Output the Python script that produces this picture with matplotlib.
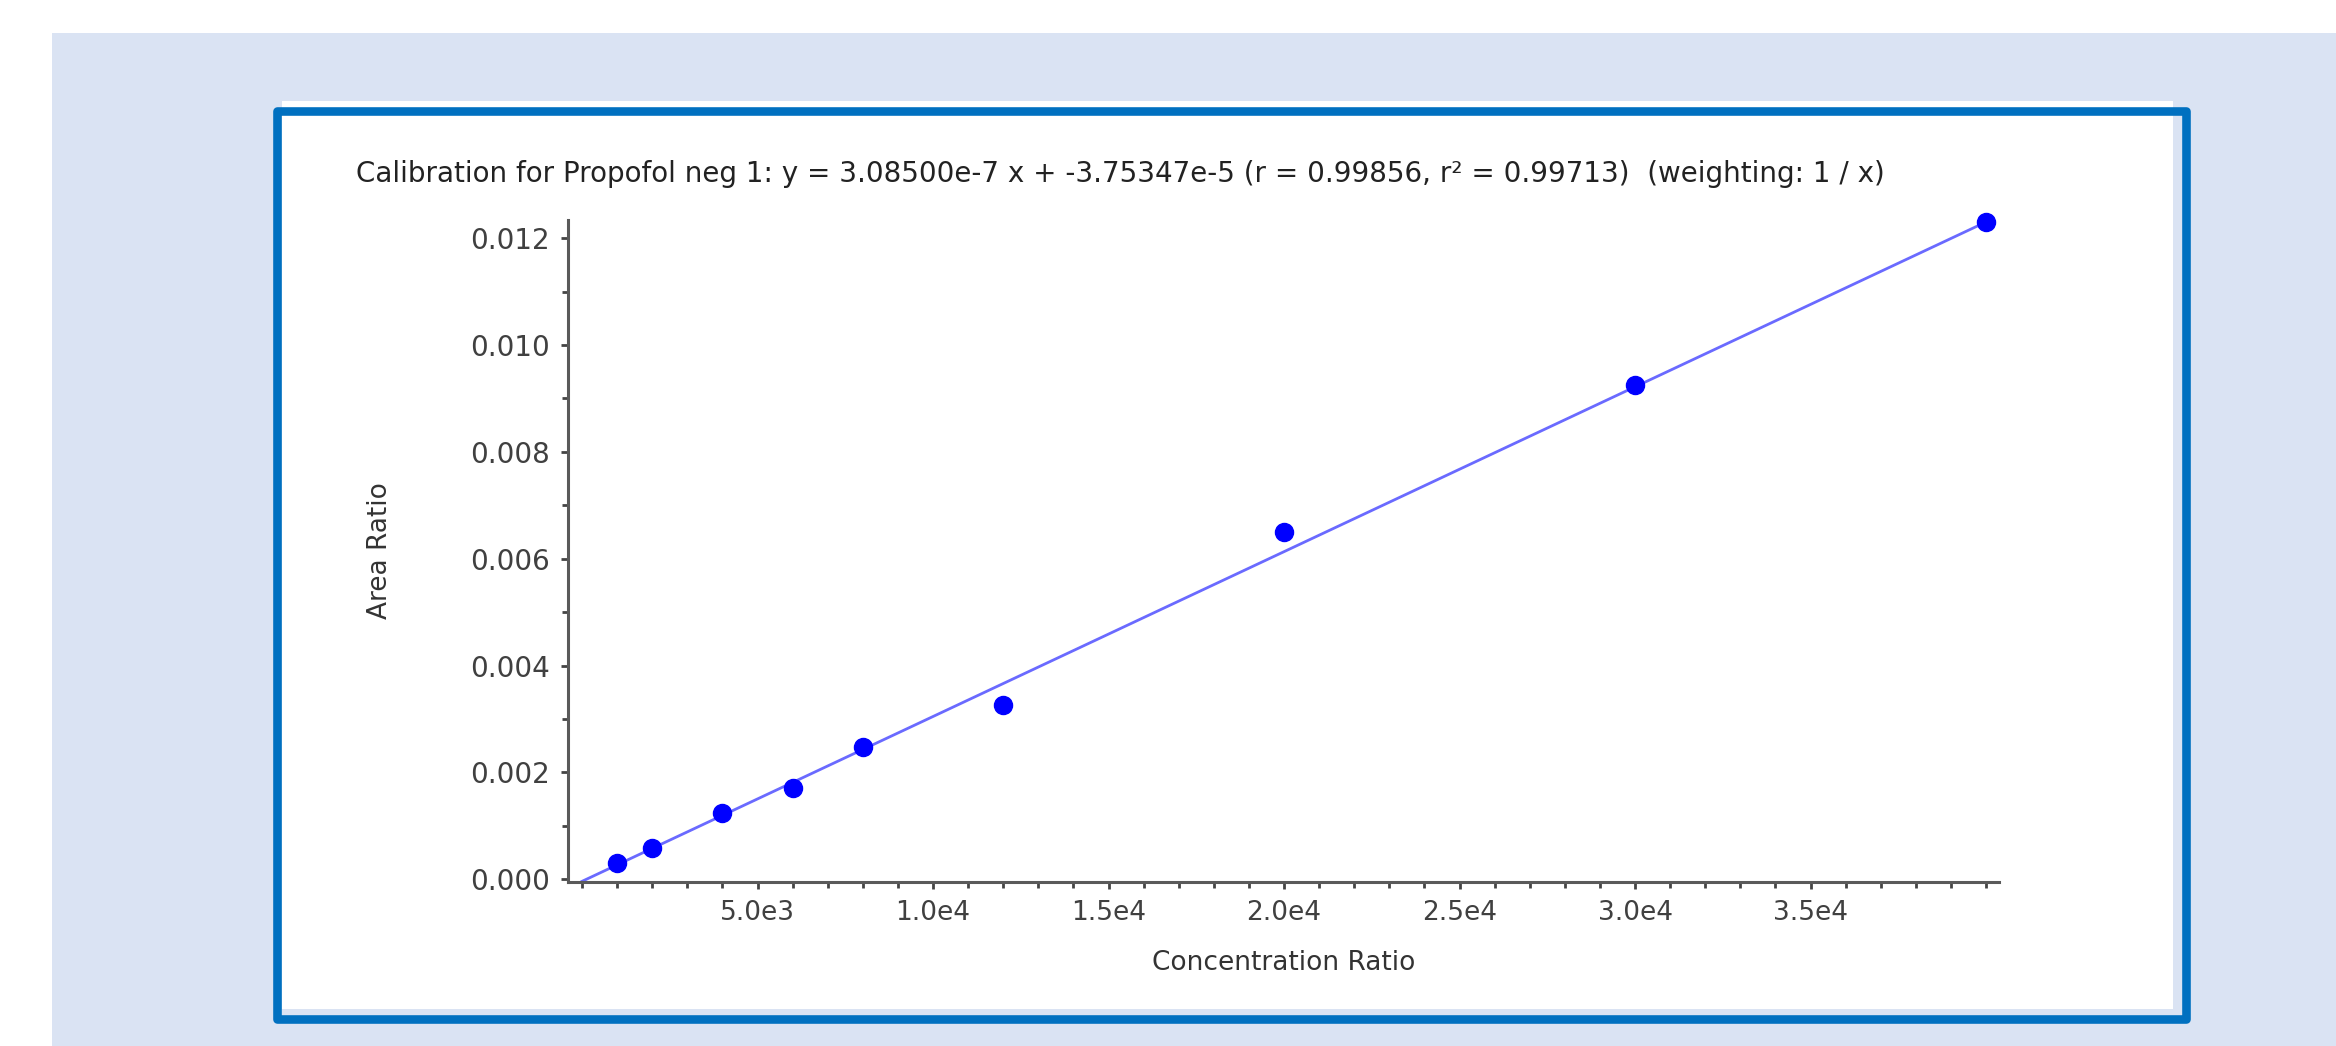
import numpy as np
import matplotlib.pyplot as plt
from matplotlib.patches import Rectangle
from matplotlib.ticker import FixedLocator, MultipleLocator, FuncFormatter

# calibration standards
conc_ratio = [1000, 2000, 4000, 6000, 8000, 12000, 20000, 30000, 40000]
area_ratio = [0.00031, 0.00059, 0.00125, 0.00170, 0.00248, 0.00326, 0.00650, 0.00926, 0.01230]

# regression from the title
slope = 3.08500e-7
intercept = -3.75347e-5
title = ('Calibration for Propofol neg 1: y = 3.08500e-7 x + -3.75347e-5 '
         '(r = 0.99856, r\u00b2 = 0.99713)  (weighting: 1 / x)')

x_major = [5000, 10000, 15000, 20000, 25000, 30000, 35000]
x_major_labels = ['5.0e3', '1.0e4', '1.5e4', '2.0e4', '2.5e4', '3.0e4', '3.5e4']

plt.rcParams['font.family'] = ['DejaVu Sans']

W, H = 2336, 1046
fig = plt.figure(figsize=(W / 100, H / 100), dpi=100, facecolor='white')


def px_rect(x0, y0, x1, y1, **kw):
    # rectangle in pixel coords measured from the top-left corner
    return Rectangle((x0 / W, 1 - y1 / H), (x1 - x0) / W, (y1 - y0) / H,
                     transform=fig.transFigure, zorder=-10, **kw)


fig.patches.append(px_rect(52, 33, W + 5, H + 5, facecolor='#dae3f3', edgecolor='none'))
fig.patches.append(px_rect(282, 101, 2173, 1009, facecolor='white', edgecolor='none'))
fig.patches.append(px_rect(276.5, 111, 2186, 1019, facecolor='none', edgecolor='#0070c0',
                           linewidth=6.2, joinstyle='round'))

ax = fig.add_axes([568 / W, 1 - 882 / H, (1999 - 568) / W, (882 - 220) / H])
ax.set_facecolor('none')

x_lo, x_hi = -400, 40370
ax.set_xlim(x_lo, x_hi)
ax.set_ylim(-0.00005, 0.01234)

xs = np.array([0, x_hi])
ax.plot(xs, slope * xs + intercept, color='#6a6aff', lw=2.0, zorder=2)
ax.plot(conc_ratio, area_ratio, 'o', color='#0000ff', ms=13, mec='#0000ff',
        zorder=3, clip_on=False)

for s in ['top', 'right']:
    ax.spines[s].set_visible(False)
for s in ['left', 'bottom']:
    ax.spines[s].set_color('#5a5a5a')
    ax.spines[s].set_linewidth(2.2)

ax.xaxis.set_major_locator(FixedLocator(x_major))
ax.xaxis.set_minor_locator(FixedLocator([v for v in range(0, 41000, 1000) if v not in x_major]))
ax.set_xticklabels(x_major_labels)
ax.yaxis.set_major_locator(MultipleLocator(0.002))
ax.yaxis.set_minor_locator(MultipleLocator(0.001))
ax.yaxis.set_major_formatter(FuncFormatter(lambda v, p: f'{v:.3f}'))

ax.tick_params(which='major', length=5, width=2, color='#444444',
               labelsize=19, labelcolor='#404040')
ax.tick_params(which='minor', length=4, width=2, color='#444444')
ax.tick_params(axis='x', pad=8)
ax.tick_params(axis='y', pad=8, labelsize=20)

ax.set_xlabel('Concentration Ratio', fontsize=19, color='#333333')
ax.set_ylabel('Area Ratio', fontsize=19, color='#333333')
ax.xaxis.set_label_coords(0.5, -0.103)
ax.yaxis.set_label_coords(-0.122, 0.5)

fig.text(356 / W, 1 - 174 / H, title, fontsize=20, color='#222222', ha='left', va='center')

fig.savefig('out.png', dpi=100, facecolor=fig.get_facecolor())
